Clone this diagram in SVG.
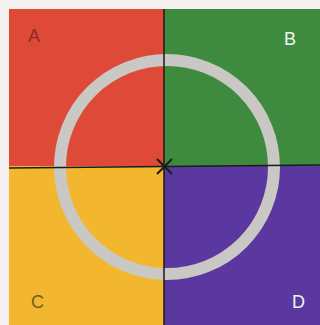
<svg xmlns="http://www.w3.org/2000/svg" width="320" height="325" viewBox="0 0 320 325">
<style>
.lbl{font-family:"Liberation Sans",Arial,sans-serif;font-size:18px;}
.div{stroke:#1a1a1a;stroke-width:1.5;fill:none;}
.x{stroke:#1a1a1a;stroke-width:2;fill:none;}
</style>
<rect width="320" height="325" fill="#f6f1f1"/>
<g id="quadrants">
<rect id="A-bg" x="9" y="9" width="155" height="157" fill="#de4a37"/>
<rect id="B-bg" x="164" y="9" width="156" height="157" fill="#3e8a3f"/>
<rect id="C-bg" x="9" y="166" width="155" height="159" fill="#f3b62f"/>
<rect id="D-bg" x="164" y="166" width="156" height="159" fill="#5a389f"/>
</g>
<circle id="ring" cx="167" cy="167" r="107" fill="none" stroke="#c9c8c5" stroke-width="12"/>
<g id="dividers">
<line class="div" x1="164" y1="9" x2="164" y2="325"/>
<line class="div" x1="9" y1="168" x2="320" y2="165"/>
<line class="x" x1="157" y1="159" x2="172" y2="174"/>
<line class="x" x1="172" y1="159" x2="157" y2="174"/>
</g>
<g id="labels">
<text class="lbl" x="28" y="42" fill="#8c2a22">A</text>
<text class="lbl" x="284" y="45" fill="#f2f2f2">B</text>
<text class="lbl" x="31" y="308" fill="#6e6222">C</text>
<text class="lbl" x="292" y="308" fill="#f2f2f2">D</text>
</g>
</svg>
